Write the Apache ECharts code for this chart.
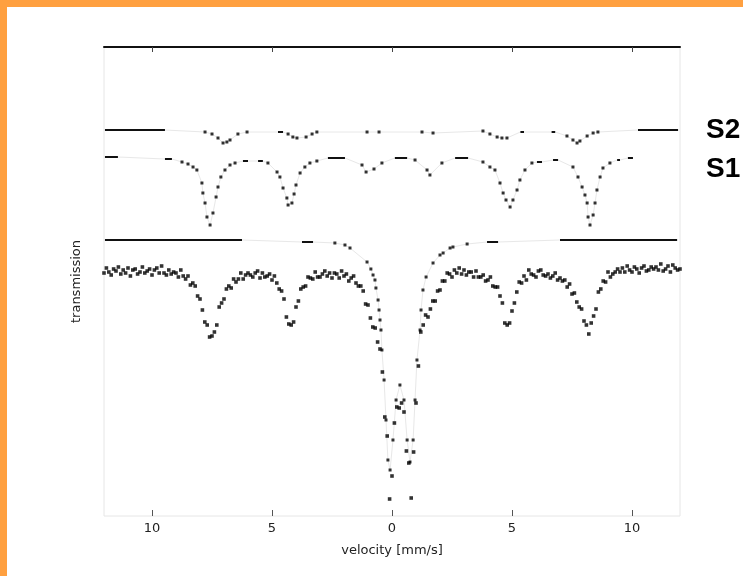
<!DOCTYPE html>
<html><head><meta charset="utf-8">
<script src="https://cdn.jsdelivr.net/npm/echarts@6/dist/echarts.min.js"></script>
<style>
html,body{margin:0;padding:0;background:#fff;}
#wrap{position:relative;width:743px;height:576px;overflow:hidden;background:#fff;}
#chart{position:absolute;left:0;top:0;width:743px;height:576px;}
.bar-top{position:absolute;left:0;top:0;width:743px;height:7px;background:#FFA040;}
.bar-left{position:absolute;left:0;top:0;width:7px;height:576px;background:#FFA040;}
</style></head><body>
<div id="wrap"><div id="chart"></div><div class="bar-top"></div><div class="bar-left"></div></div>
<script>
// channel calibration of the velocity scale (mm/s)
const V0 = -12, DV = 0.1;

// measured spectrum: relative transmission (%) per channel
const transmission = [
99.7,100.2,99.8,99.5,100.1,99.9,100.3,99.6,100.0,99.7,
100.2,99.4,100.0,100.1,99.6,99.8,100.3,99.7,99.9,100.1,
99.5,100.0,100.2,99.7,100.4,99.7,99.5,100.0,99.6,99.8,
99.7,99.3,100.0,99.4,99.1,99.4,98.5,98.7,98.4,97.4,
97.1,96.0,94.8,94.5,93.3,93.4,93.8,94.5,96.3,96.7,
97.1,98.1,98.4,98.2,99.1,98.8,99.1,99.7,99.1,99.5,
99.7,99.5,99.3,99.7,99.9,99.2,99.7,99.3,99.4,99.6,
99.0,99.4,98.7,98.1,97.9,97.1,95.3,94.6,94.5,94.8,
96.3,96.9,98.1,98.3,98.4,99.3,99.2,99.1,99.8,99.3,
99.3,99.6,99.9,99.4,99.7,99.2,99.7,99.6,99.2,99.9,
99.4,99.6,98.9,99.2,99.4,98.7,98.4,98.4,97.9,96.6,
96.5,95.2,94.3,94.2,92.8,92.1,89.8,85.3,83.4,77.1,
79.4,84.7,86.3,86.2,86.7,85.8,81.9,80.7,77.2,81.8,
86.7,90.4,93.8,94.5,95.5,95.3,96.1,96.9,96.9,97.9,
98.0,98.9,98.9,99.7,99.6,99.3,100.0,99.7,100.2,99.6,
100.0,99.5,99.8,99.8,99.3,99.9,99.3,99.3,99.5,98.9,
99.0,99.3,98.4,98.3,98.3,97.4,96.7,94.7,94.5,94.7,
95.9,96.7,97.8,98.8,98.7,99.4,99.0,100.0,99.6,99.5,
99.3,99.9,100.0,99.5,99.4,99.6,99.2,99.4,99.7,99.0,
99.2,98.9,99.0,98.3,98.6,97.6,97.7,96.8,96.3,96.1,
94.9,94.5,93.6,94.7,95.4,96.1,97.8,98.1,98.9,98.8,
99.8,99.3,99.6,99.8,100.1,99.8,100.2,99.8,100.4,100.0,
99.8,100.3,100.1,99.7,100.2,100.4,99.9,100.0,100.3,100.1,
100.3,100.0,100.6,99.9,100.1,100.4,99.8,100.5,100.2,100.0,100.1
];

// fitted sub-spectra: [velocity, transmission] samples that print dark
const s2Dots = [[-7.79,99.8],[-7.5,99.6],[-7.25,99.2],[-7.04,98.7],[-6.88,98.8],[-6.75,99.0],[-6.42,99.6],[-6.04,99.8],[-4.33,99.6],[-4.13,99.3],[-3.96,99.2],[-3.58,99.3],[-3.33,99.6],[-3.13,99.8],[-1.04,99.8],[-0.54,99.8],[1.25,99.8],[1.71,99.7],[3.79,99.9],[4.08,99.6],[4.38,99.3],[4.58,99.2],[4.79,99.2],[7.29,99.4],[7.54,99.0],[7.71,98.7],[7.83,98.9],[8.13,99.4],[8.38,99.7],[8.58,99.8]];
// flat stretches [from, to, transmission]
const s2Flat = [[-11.96,-9.46,100.0],[-4.75,-4.54,99.8],[5.35,5.5,99.8],[6.65,6.8,99.8],[10.25,11.92,100.0]];

const s1Dots = [[-8.75,99.5],[-8.5,99.3],[-8.29,99.0],[-8.13,98.7],[-7.92,97.4],[-7.88,96.4],[-7.79,95.4],[-7.71,94.0],[-7.58,93.2],[-7.46,94.4],[-7.33,96.0],[-7.25,97.0],[-7.13,98.0],[-6.96,98.7],[-6.75,99.2],[-6.54,99.4],[-5.17,99.4],[-4.79,98.5],[-4.67,98.0],[-4.54,96.9],[-4.38,95.9],[-4.33,95.2],[-4.17,95.4],[-4.08,96.3],[-4.0,97.2],[-3.83,98.4],[-3.63,99.0],[-3.42,99.4],[-3.13,99.6],[-1.25,99.2],[-1.08,98.5],[-0.75,98.8],[-0.42,99.4],[0.96,99.7],[1.46,98.7],[1.58,98.2],[2.08,99.4],[3.79,99.5],[4.08,99.0],[4.29,98.7],[4.5,97.4],[4.63,96.4],[4.75,95.7],[4.92,95.0],[5.04,95.7],[5.21,96.7],[5.33,97.7],[5.54,98.7],[5.83,99.4],[7.54,99.0],[7.75,98.0],[7.92,97.0],[8.04,96.2],[8.13,95.4],[8.17,94.0],[8.25,93.2],[8.38,94.2],[8.46,95.4],[8.54,96.7],[8.67,98.0],[8.79,98.9],[9.08,99.4]];
const s1Flat = [[-11.96,-11.42,100.0],[-9.46,-9.17,99.8],[-6.21,-6.0,99.6],[-5.58,-5.38,99.6],[-2.67,-1.96,99.9],[0.12,0.63,99.9],[2.63,3.17,99.9],[6.04,6.25,99.5],[6.71,6.92,99.7],[9.38,9.5,99.7],[9.83,10.04,99.9]];

const dDots = [[-2.38,99.7],[-1.96,99.5],[-1.75,99.2],[-1.04,97.8],[-0.88,97.1],[-0.79,96.5],[-0.71,96.0],[-0.67,95.2],[-0.58,94.0],[-0.54,93.0],[-0.5,92.0],[-0.46,91.0],[-0.42,89.0],[-0.33,86.0],[-0.25,82.0],[-0.17,78.0],[-0.08,77.0],[0.04,80.0],[0.17,84.0],[0.33,85.5],[0.5,84.0],[0.63,80.0],[0.75,77.8],[0.88,80.0],[0.96,84.0],[1.04,88.0],[1.17,91.0],[1.21,93.0],[1.29,95.0],[1.42,96.3],[1.71,97.7],[2.0,98.5],[2.13,98.7],[2.42,99.2],[2.54,99.3],[3.13,99.6]];
const dFlat = [[-11.96,-6.25,100.0],[-3.75,-3.29,99.8],[3.96,4.42,99.8],[7.0,11.88,100.0]];

const tickValues = [-10,-5,0,5,10];
const tickLabels = ['10','5','0','5','10'];
const componentLabels = ['S2','S1'];

// vertical stacking offsets of the sub-spectra (layout, not data)
const OFFSET = {S2: 14.0, S1: 11.3, D: 3.0};

const velocity = transmission.map((_, i) => Math.round((V0 + i * DV) * 100) / 100);
const measured = transmission.map((t, i) => [velocity[i], t]);

function shift(points, off) { return points.map(p => [p[0], Math.round((p[1] + off) * 100) / 100]); }
function flatData(flat, off) {
  const out = [];
  flat.forEach(f => { out.push([f[0], f[2] + off], [f[1], f[2] + off], [f[1], '-']); });
  return out;
}
function faintData(dots, flat, off) {
  const pts = dots.map(p => [p[0], p[1]]);
  flat.forEach(f => { pts.push([f[0], f[2]], [f[1], f[2]]); });
  pts.sort((a, b) => a[0] - b[0]);
  return shift(pts, off);
}

const comps = [
  {dots: s2Dots, flat: s2Flat, off: OFFSET.S2},
  {dots: s1Dots, flat: s1Flat, off: OFFSET.S1},
  {dots: dDots, flat: dFlat, off: OFFSET.D}
];

const series = [];
comps.forEach(c => {
  series.push({type: 'line', data: faintData(c.dots, c.flat, c.off), symbol: 'none', silent: true,
    lineStyle: {color: '#e8e8e8', width: 1}, z: 1});
});
comps.forEach(c => {
  series.push({type: 'line', data: flatData(c.flat, c.off), symbol: 'none', silent: true, connectNulls: false,
    lineStyle: {color: '#111', width: 2}, z: 2});
  series.push({type: 'scatter', data: shift(c.dots, c.off), symbol: 'rect', symbolSize: 3,
    itemStyle: {color: '#000'}, z: 3});
});
series.push({type: 'scatter', data: measured, symbol: 'rect', symbolSize: 3.6,
  itemStyle: {color: '#000'}, z: 4});

const textFont = 'DejaVu Sans';
const chart = echarts.init(document.getElementById('chart'), null, {renderer: 'canvas'});
chart.setOption({
  animation: false,
  backgroundColor: '#fff',
  grid: {left: 104, right: 63, top: 47, bottom: 60, show: true, borderColor: '#e6e6e6', borderWidth: 1, containLabel: false},
  xAxis: [
    {type: 'value', position: 'bottom', min: -12, max: 12,
      axisLine: {show: false},
      axisTick: {show: true, inside: true, length: 6, lineStyle: {color: '#555'}, customValues: tickValues},
      axisLabel: {show: true, customValues: tickValues, margin: 6, color: '#222', fontSize: 13, fontFamily: textFont,
        formatter: v => tickLabels[tickValues.indexOf(v)] || ''},
      splitLine: {show: false},
      name: 'velocity [mm/s]', nameLocation: 'middle', nameGap: 28,
      nameTextStyle: {color: '#222', fontSize: 13, fontFamily: textFont}},
    {type: 'value', position: 'top', min: -12, max: 12,
      axisLine: {show: true, lineStyle: {color: '#111', width: 2}},
      axisTick: {show: true, inside: true, length: 5, lineStyle: {color: '#444'}, customValues: tickValues},
      axisLabel: {show: false}, splitLine: {show: false}}
  ],
  yAxis: {type: 'value', min: 75.4, max: 122.3,
    axisLine: {show: false}, axisTick: {show: false}, axisLabel: {show: false}, splitLine: {show: false},
    name: 'transmission', nameLocation: 'middle', nameGap: 21, nameRotate: 90,
    nameTextStyle: {color: '#222', fontSize: 13, fontFamily: textFont}},
  graphic: [
    {type: 'text', x: 706, y: 130, style: {text: componentLabels[0], fontSize: 28, fontWeight: 'bold',
      fontFamily: 'Liberation Sans', fill: '#000', verticalAlign: 'middle'}},
    {type: 'text', x: 706, y: 169, style: {text: componentLabels[1], fontSize: 28, fontWeight: 'bold',
      fontFamily: 'Liberation Sans', fill: '#000', verticalAlign: 'middle'}}
  ],
  series: series
});
</script></body></html>
